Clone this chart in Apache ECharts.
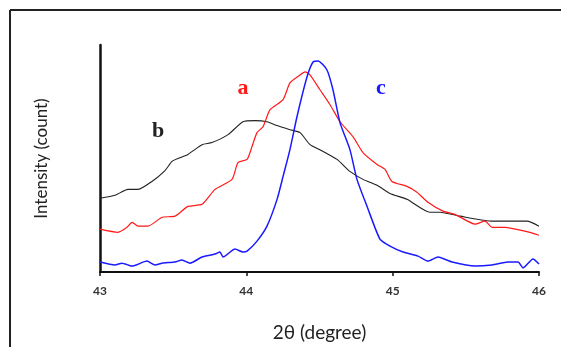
<!DOCTYPE html>
<html>
<head>
<meta charset="utf-8">
<script src="https://cdn.jsdelivr.net/npm/echarts@6/dist/echarts.min.js"></script>
<style>
  html, body { margin: 0; padding: 0; background: #fff; }
  #chart { width: 561px; height: 347px; }
</style>
</head>
<body>
<div id="chart"></div>
<script>
// 2-theta positions (degree) and intensities (arbitrary counts, 0-100)
const bTheta = [43.0, 43.103, 43.191, 43.26, 43.355, 43.444, 43.492, 43.533, 43.601, 43.697, 43.765, 43.875, 43.977, 44.059, 44.141, 44.21, 44.298, 44.367, 44.435, 44.503, 44.62, 44.708, 44.797, 44.893, 44.982, 45.098, 45.255, 45.324, 45.46, 45.686, 45.918, 46.0];
const bCount = [32.5, 33.8, 36.4, 36.4, 39.9, 44.7, 48.7, 50.0, 51.8, 56.1, 57.0, 60.5, 66.2, 66.7, 66.2, 64.5, 62.7, 61.4, 56.1, 53.9, 49.6, 44.3, 40.8, 38.2, 34.6, 32.0, 26.3, 26.3, 24.6, 22.4, 22.4, 20.2];

const aTheta = [43.0, 43.123, 43.185, 43.219, 43.26, 43.328, 43.424, 43.513, 43.601, 43.697, 43.786, 43.902, 43.943, 44.005, 44.039, 44.073, 44.114, 44.162, 44.251, 44.298, 44.367, 44.401, 44.435, 44.503, 44.572, 44.64, 44.729, 44.797, 44.893, 44.948, 44.995, 45.098, 45.166, 45.241, 45.344, 45.426, 45.563, 45.631, 45.679, 45.768, 45.904, 46.0];
const aCount = [18.9, 17.5, 19.7, 21.9, 20.2, 20.2, 24.1, 24.6, 28.9, 29.8, 36.4, 40.8, 48.2, 49.6, 55.3, 61.4, 64.0, 71.5, 75.9, 83.3, 86.8, 88.2, 86.8, 80.3, 73.7, 66.2, 59.6, 52.6, 47.4, 45.2, 39.9, 37.7, 35.1, 30.7, 26.8, 25.4, 21.1, 22.4, 19.7, 19.7, 18.0, 16.2];

const cTheta = [43.0, 43.103, 43.15, 43.219, 43.321, 43.376, 43.424, 43.513, 43.56, 43.615, 43.697, 43.786, 43.82, 43.841, 43.923, 43.977, 44.005, 44.073, 44.141, 44.21, 44.251, 44.298, 44.346, 44.415, 44.456, 44.49, 44.551, 44.592, 44.64, 44.708, 44.756, 44.825, 44.913, 44.982, 45.071, 45.173, 45.241, 45.31, 45.406, 45.563, 45.679, 45.788, 45.857, 45.891, 45.959, 46.0];
const cCount = [4.4, 3.1, 3.9, 2.6, 4.8, 3.1, 3.9, 4.4, 5.3, 3.9, 6.6, 7.9, 8.8, 6.6, 10.1, 8.8, 9.2, 13.6, 20.2, 32.0, 42.1, 53.9, 68.4, 86.0, 92.5, 93.0, 89.0, 80.3, 65.8, 53.9, 40.8, 28.9, 14.5, 11.4, 8.8, 7.0, 4.8, 6.6, 4.4, 2.6, 3.1, 4.4, 4.4, 1.8, 5.7, 3.5];

const xTicks = [43, 44, 45, 46];

const pairs = (xs, ys) => xs.map((x, i) => [x, ys[i]]);

const chart = echarts.init(document.getElementById("chart"));

const option = {
  animation: false,
  backgroundColor: "#fff",
  grid: { left: 100, right: 22, top: 45, bottom: 74 },
  xAxis: {
    type: "value",
    min: xTicks[0],
    max: xTicks[xTicks.length - 1],
    interval: 1,
    name: "2θ (degree)",
    nameLocation: "middle",
    nameGap: 51,
    nameTextStyle: { fontFamily: "Lato", fontSize: 19, color: "#222" },
    axisLine: { lineStyle: { color: "#111", width: 2 } },
    axisTick: { show: true, length: 4, lineStyle: { color: "#111", width: 1.5 } },
    axisLabel: { fontFamily: "Lato", fontSize: 12, fontWeight: "bold", color: "#333", margin: 13 },
    splitLine: { show: false }
  },
  yAxis: {
    type: "value",
    min: 0,
    max: 100,
    name: "Intensity (count)",
    nameLocation: "middle",
    nameRotate: 90,
    nameGap: 50,
    nameTextStyle: { fontFamily: "Lato", fontSize: 17, color: "#222" },
    axisLine: { show: true, lineStyle: { color: "#111", width: 2.5 } },
    axisTick: { show: false },
    axisLabel: { show: false },
    splitLine: { show: false }
  },
  series: [
    {
      name: "b",
      type: "line",
      data: pairs(bTheta, bCount),
      showSymbol: false,
      smooth: 0.2,
      lineStyle: { color: "#222", width: 1.1 }
    },
    {
      name: "a",
      type: "line",
      data: pairs(aTheta, aCount),
      showSymbol: false,
      smooth: 0.2,
      lineStyle: { color: "#ff1a1a", width: 1.2 }
    },
    {
      name: "c",
      type: "line",
      data: pairs(cTheta, cCount),
      showSymbol: false,
      smooth: 0.2,
      lineStyle: { color: "#1a1aff", width: 1.5 }
    }
  ],
  graphic: [
    // outer frame (top and left edges)
    { type: "line", shape: { x1: 10, y1: 10, x2: 561, y2: 10 }, style: { stroke: "#222", lineWidth: 2 } },
    { type: "line", shape: { x1: 10, y1: 10, x2: 10, y2: 347 }, style: { stroke: "#222", lineWidth: 2 } },
    // curve labels
    { type: "text", x: 243, y: 88, style: { text: "a", fill: "#ff1a1a", font: "bold 22px 'Liberation Serif'", textAlign: "center", textVerticalAlign: "middle" } },
    { type: "text", x: 158, y: 131, style: { text: "b", fill: "#222", font: "bold 22px 'Liberation Serif'", textAlign: "center", textVerticalAlign: "middle" } },
    { type: "text", x: 381, y: 88, style: { text: "c", fill: "#1a1aff", font: "bold 22px 'Liberation Serif'", textAlign: "center", textVerticalAlign: "middle" } }
  ]
};

chart.setOption(option);
</script>
</body>
</html>
